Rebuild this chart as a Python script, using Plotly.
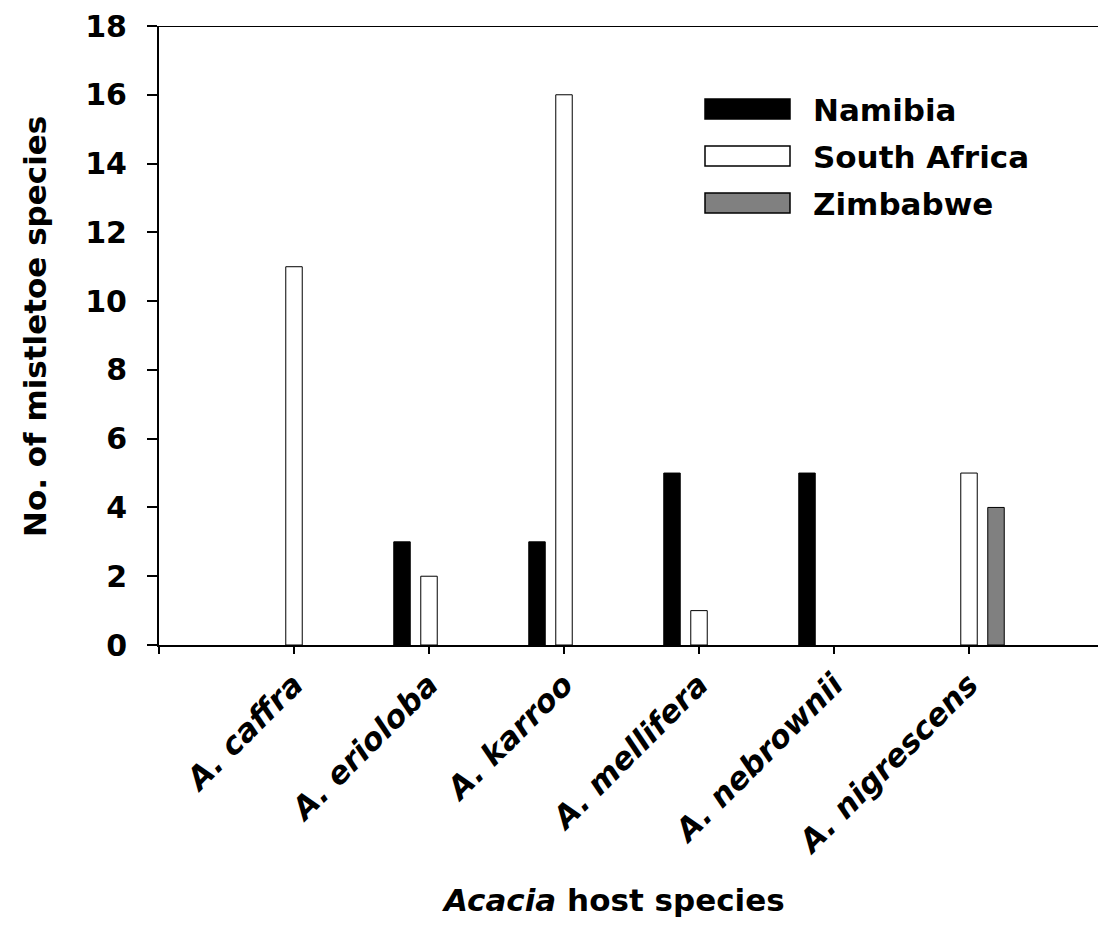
import plotly.graph_objects as go

# ---- data ----
categories = ["A. caffra", "A. erioloba", "A. karroo", "A. mellifera", "A. nebrownii", "A. nigrescens"]
namibia = [0, 3, 3, 5, 5, 0]
south_africa = [11, 2, 16, 1, 0, 5]
zimbabwe = [0, 0, 0, 0, 0, 4]
series_names = ["Namibia", "South Africa", "Zimbabwe"]
y_ticks = [0, 2, 4, 6, 8, 10, 12, 14, 16, 18]

# ---- layout geometry (pixels) ----
FIG_W, FIG_H = 1098, 926
L, R, T, B = 159, 1098, 26, 645
PW, PH = R - L, B - T

def px_x(px):
    return (px - L) / PW

def px_y(py):
    return (B - py) / PH

FONT = "DejaVu Sans"
colors = ["#000000", "#ffffff", "#808080"]
xpos = list(range(len(categories)))

fig = go.Figure()
for name, vals, col in zip(series_names, [namibia, south_africa, zimbabwe], colors):
    # zero-height bars are not drawn in the reference
    shown = [v if v != 0 else None for v in vals]
    fig.add_trace(go.Bar(
        x=xpos, y=shown, name=name,
        marker=dict(color=col, line=dict(color="#000000", width=1)),
        showlegend=False,
    ))

fig.update_layout(
    width=FIG_W, height=FIG_H,
    margin=dict(l=L, r=FIG_W - R, t=T, b=FIG_H - B, pad=0),
    paper_bgcolor="white", plot_bgcolor="white",
    barmode="group", bargap=0.4, bargroupgap=0.39,
    font=dict(family=FONT, size=30, color="black", weight="bold"),
)

fig.update_xaxes(
    type="linear",
    range=[-1, -1 + PW / 135.0],
    tickvals=[-1] + xpos,
    ticktext=[""] + ["<i>" + c + "</i>" for c in categories],
    tickangle=-45,
    ticks="outside", ticklen=7, tickwidth=2, tickcolor="black",
    showline=True, linewidth=2, linecolor="black",
    showgrid=False, zeroline=False,
    tickfont=dict(family=FONT, size=31, color="black", weight="bold"),
    ticklabelstandoff=0,
)
fig.update_yaxes(
    range=[0, 18],
    tickvals=y_ticks,
    ticks="outside", ticklen=10, tickwidth=2, tickcolor="black",
    showline=True, linewidth=2, linecolor="black",
    showgrid=False, zeroline=False,
    tickfont=dict(family=FONT, size=30, color="black", weight="bold"),
    ticklabelstandoff=14,
)

# top frame line at y=18
fig.add_shape(type="line", xref="paper", yref="y", x0=0, x1=1, y0=18, y1=18,
              line=dict(color="black", width=2))

# axis titles
fig.add_annotation(text="<i>Acacia</i> host species", xref="paper", yref="paper",
                   x=px_x(613), y=px_y(900), xanchor="center", yanchor="middle",
                   showarrow=False, font=dict(family=FONT, size=31, color="black", weight="bold"))
fig.add_annotation(text="No. of mistletoe species", xref="paper", yref="paper",
                   x=px_x(35), y=px_y(327), xanchor="center", yanchor="middle", textangle=-90,
                   showarrow=False, font=dict(family=FONT, size=31, color="black", weight="bold"))

# custom legend with wide swatches
row_centers = [109, 156, 203]
for name, col, yc in zip(series_names, colors, row_centers):
    fig.add_shape(type="rect", xref="paper", yref="paper",
                  x0=px_x(705), x1=px_x(790), y0=px_y(yc + 10), y1=px_y(yc - 10),
                  fillcolor=col, line=dict(color="black", width=1.5))
    fig.add_annotation(text=name, xref="paper", yref="paper",
                       x=px_x(811), y=px_y(yc + 1), xanchor="left", yanchor="middle",
                       showarrow=False, font=dict(family=FONT, size=31, color="black", weight="bold"))

fig.write_html("out.html")
